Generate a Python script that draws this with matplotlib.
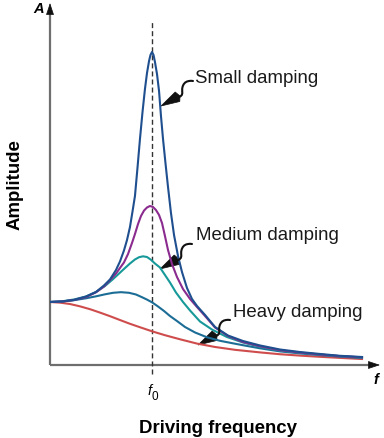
import matplotlib.pyplot as plt
from matplotlib.patches import Polygon

plt.rcParams['font.family'] = ['Liberation Sans', 'DejaVu Sans']

# driving frequency in units of f0, amplitude in units of the static amplitude
small_f = [0, 0.118, 0.235, 0.353, 0.451, 0.529, 0.588, 0.647, 0.686, 0.725, 0.755, 0.784, 0.809, 0.833,
           0.858, 0.882, 0.907, 0.931, 0.951, 0.971, 0.985, 1.0, 1.015, 1.029, 1.049, 1.069, 1.088, 1.108,
           1.132, 1.157, 1.186, 1.216, 1.255, 1.294, 1.343, 1.392, 1.441, 1.520, 1.618, 1.745, 1.892,
           2.059, 2.255, 2.451, 2.647, 2.843, 3.059]
small_a = [1.0, 1.008, 1.032, 1.087, 1.159, 1.262, 1.357, 1.508, 1.643, 1.817, 1.984, 2.190, 2.437, 2.683,
           3.135, 3.587, 4.016, 4.381, 4.635, 4.825, 4.921, 4.968, 4.921, 4.810, 4.619, 4.349, 3.952, 3.587,
           3.206, 2.825, 2.413, 2.063, 1.730, 1.476, 1.222, 1.048, 0.937, 0.794, 0.603, 0.468, 0.381,
           0.310, 0.246, 0.206, 0.175, 0.146, 0.127]

medium_f = [0, 0.118, 0.235, 0.353, 0.451, 0.529, 0.608, 0.647, 0.686, 0.725, 0.765, 0.804, 0.833, 0.863,
            0.892, 0.922, 0.951, 0.980, 1.010, 1.039, 1.069, 1.098, 1.127, 1.157, 1.196, 1.245, 1.304,
            1.373, 1.441, 1.520, 1.618, 1.745, 1.892, 2.059, 2.255, 2.451, 2.647, 2.843, 3.059]
medium_a = [1.0, 1.008, 1.032, 1.079, 1.154, 1.246, 1.381, 1.452, 1.540, 1.627, 1.762, 1.937, 2.079, 2.238,
            2.365, 2.452, 2.500, 2.524, 2.508, 2.460, 2.381, 2.254, 2.048, 1.825, 1.603, 1.397, 1.206,
            1.048, 0.921, 0.778, 0.595, 0.460, 0.365, 0.298, 0.235, 0.198, 0.167, 0.141, 0.122]

teal_f = [0, 0.118, 0.235, 0.353, 0.451, 0.539, 0.608, 0.667, 0.725, 0.784, 0.833, 0.873, 0.912, 0.951,
          0.990, 1.029, 1.078, 1.127, 1.176, 1.235, 1.304, 1.373, 1.471, 1.588, 1.735, 1.892, 2.059, 2.255,
          2.451, 2.647, 2.843, 3.059]
teal_a = [1.0, 1.011, 1.040, 1.087, 1.159, 1.254, 1.349, 1.437, 1.524, 1.611, 1.675, 1.711, 1.725, 1.714,
          1.670, 1.611, 1.548, 1.429, 1.310, 1.151, 1.0, 0.865, 0.690, 0.563, 0.444, 0.357, 0.289, 0.229,
          0.194, 0.165, 0.140, 0.119]

dark_f = [0, 0.118, 0.235, 0.353, 0.451, 0.539, 0.618, 0.696, 0.775, 0.843, 0.902, 0.951, 1.0, 1.059,
          1.118, 1.176, 1.245, 1.324, 1.422, 1.539, 1.667, 1.794, 1.912, 2.059, 2.255, 2.451, 2.647,
          2.843, 3.059]
dark_a = [1.0, 1.008, 1.029, 1.059, 1.090, 1.122, 1.146, 1.156, 1.146, 1.119, 1.076, 1.038, 0.995, 0.929,
          0.857, 0.778, 0.698, 0.603, 0.516, 0.440, 0.384, 0.344, 0.308, 0.265, 0.216, 0.184, 0.157,
          0.133, 0.111]

heavy_f = [0, 0.098, 0.196, 0.294, 0.392, 0.490, 0.588, 0.686, 0.784, 0.892, 1.0, 1.127, 1.275, 1.441,
           1.618, 1.814, 2.059, 2.255, 2.451, 2.647, 2.843, 3.059]
heavy_a = [1.0, 0.990, 0.968, 0.931, 0.886, 0.832, 0.775, 0.714, 0.654, 0.594, 0.535, 0.473, 0.408, 0.340,
           0.286, 0.241, 0.200, 0.171, 0.149, 0.130, 0.113, 0.095]

W, H = 384, 439
SX, SY = 102.0, 63.0  # pixels per data unit

fig = plt.figure(figsize=(W / 100, H / 100), dpi=100)
ax = fig.add_axes([50 / W, 1 - 366 / H, 330 / W, 362 / H])
xmax, ymax = 330 / SX, 362 / SY
ax.set_xlim(0, xmax)
ax.set_ylim(0, ymax)
ax.axis('off')

# axes with arrows
ax.plot([0, xmax - 0.05], [0, 0], color='#6e6e6e', lw=1.6, clip_on=False, solid_capstyle='butt')
ax.plot([0, 0], [0, ymax - 0.08], color='#6e6e6e', lw=1.6, clip_on=False, solid_capstyle='butt')
head = dict(arrowstyle='-|>,head_length=0.75,head_width=0.25', color='#111', lw=0.5,
            mutation_scale=10, shrinkA=0, shrinkB=0)
ax.annotate('', xy=(xmax, 0), xytext=(xmax - 0.1, 0), arrowprops=head, annotation_clip=False)
ax.annotate('', xy=(0, ymax), xytext=(0, ymax - 0.15), arrowprops=head, annotation_clip=False)

# resonance frequency marker
ax.plot([1, 1], [-9 / SY, 343 / SY], color='#333', lw=1.0, ls=(0, (3.6, 2.2)), clip_on=False)

ax.plot(heavy_f, heavy_a, color='#cf4c4c', lw=1.5)
ax.plot(dark_f, dark_a, color='#1c6d96', lw=1.5)
ax.plot(teal_f, teal_a, color='#17999a', lw=1.5)
ax.plot(medium_f, medium_a, color='#8b2b8f', lw=1.5)
ax.plot(small_f, small_a, color='#1f4f8f', lw=1.5)

# curly pointer arrows (offsets in pixels, y down)
body = [(0, 0), (-2, -0.2), (-4, 0), (-6, 0.5), (-7.8, 1.5), (-9.3, 3.2), (-10.3, 5.3), (-10.8, 7.6),
        (-10.8, 10), (-10.7, 12.2), (-11.2, 14), (-12.5, 15.3), (-15, 16.5)]
dart = [(-13, 15), (-13.2, 20.5), (-32, 25), (-17.8, 11)]


def squiggle(x0, y0):
    xs = [x0 + dx / SX for dx, dy in body]
    ys = [y0 - dy / SY for dx, dy in body]
    ax.plot(xs, ys, color='#111', lw=1.5, solid_capstyle='round', clip_on=False)
    pts = [(x0 + dx / SX, y0 - dy / SY) for dx, dy in dart]
    ax.add_patch(Polygon(pts, closed=True, facecolor='#111', edgecolor='#111', lw=0.5, clip_on=False))


squiggle(143 / SX, (366 - 82) / SY)
squiggle(142 / SX, (366 - 245) / SY)
squiggle(180 / SX, (366 - 321) / SY)

fs = 13.4
ax.text(145 / SX, (366 - 83) / SY, 'Small damping', fontsize=fs, color='#1a1a1a', va='baseline')
ax.text(146 / SX, (366 - 240) / SY, 'Medium damping', fontsize=fs, color='#1a1a1a', va='baseline')
ax.text(183 / SX, (366 - 317) / SY, 'Heavy damping', fontsize=fs, color='#1a1a1a', va='baseline')


# labels outside the axes (pixel positions)
def fx(px):
    return px / W


def fy(py):
    return 1 - py / H


fig.text(fx(44), fy(9), 'A', fontsize=10.5, fontweight='bold', fontstyle='italic', ha='right', va='center')
fig.text(fx(376), fy(380), 'f', fontsize=10.5, fontweight='bold', fontstyle='italic', ha='center', va='center')
fig.text(fx(150), fy(395), 'f', fontsize=10.5, fontstyle='italic', ha='center', va='baseline')
fig.text(fx(152), fy(400), '0', fontsize=8.5, ha='left', va='baseline')
fig.text(fx(218), fy(433), 'Driving frequency', fontsize=fs, fontweight='bold', ha='center', va='baseline')
fig.text(fx(15), fy(185), 'Amplitude', fontsize=fs, fontweight='bold', rotation=90, ha='center', va='center')

fig.savefig('out.png', dpi=100)
